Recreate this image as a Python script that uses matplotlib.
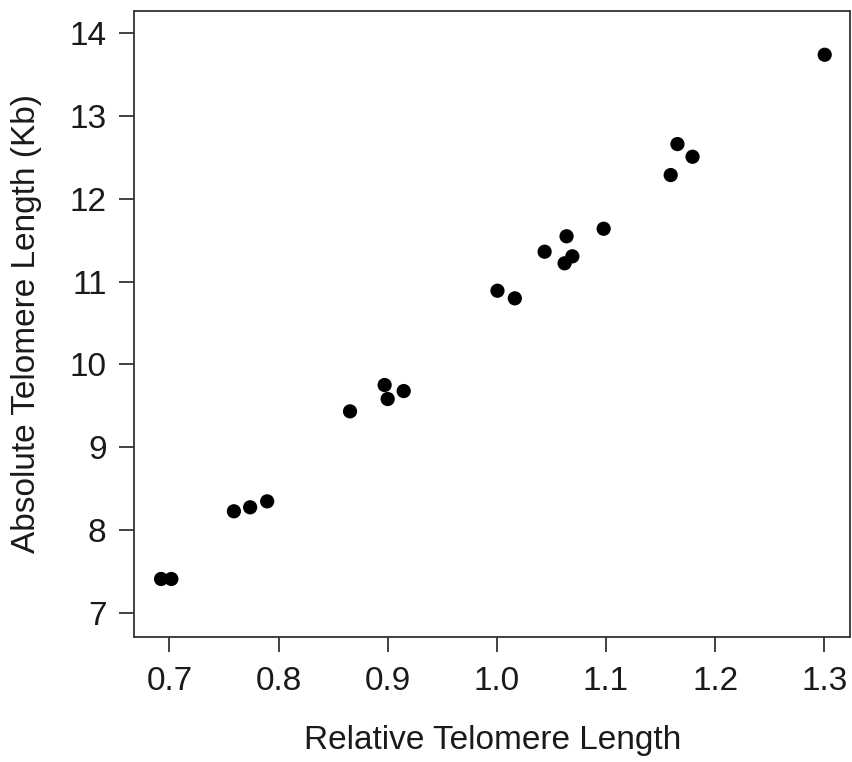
import matplotlib
matplotlib.use("Agg")
import matplotlib.pyplot as plt

relative_tl = [0.6924, 0.7018, 0.7591, 0.7740, 0.7896, 0.8655, 0.8972, 0.9000,
               0.9147, 1.0006, 1.0165, 1.0438, 1.0621, 1.0639, 1.0692, 1.0979,
               1.1593, 1.1655, 1.1793, 1.3004]
absolute_tl = [7.411, 7.411, 8.228, 8.276, 8.348, 9.434, 9.752, 9.583,
               9.679, 10.890, 10.798, 11.361, 11.221, 11.547, 11.305, 11.638,
               12.286, 12.660, 12.507, 13.738]
x_ticks = [0.7, 0.8, 0.9, 1.0, 1.1, 1.2, 1.3]
x_tick_labels = ["0.7", "0.8", "0.9", "1.0", "1.1", "1.2", "1.3"]
y_ticks = [7, 8, 9, 10, 11, 12, 13, 14]

plt.rcParams['font.family'] = ['Liberation Sans', 'DejaVu Sans']

fig = plt.figure(figsize=(8.53, 7.62), dpi=100)
ax = fig.add_axes([0.1575, 0.1644, 0.839, 0.8216])
ax.scatter(relative_tl, absolute_tl, s=105, color='black', edgecolors='none', zorder=3)

ax.set_xlim(0.6679, 1.3236)
ax.set_ylim(6.714, 14.27)
ax.set_xticks(x_ticks)
ax.set_xticklabels(x_tick_labels)
ax.set_yticks(y_ticks)

for sp in ax.spines.values():
    sp.set_color('#333333')
    sp.set_linewidth(1.3)

ax.tick_params(axis='both', direction='out', length=11, width=1.3, color='#333333',
               labelsize=24, labelcolor='#1a1a1a', pad=9)
ax.tick_params(axis='x', pad=10)
ax.set_xlabel("Relative Telomere Length", fontsize=24, color='#1a1a1a', labelpad=20)
ax.set_ylabel("Absolute Telomere Length (Kb)", fontsize=24, color='#1a1a1a', labelpad=20)

fig.savefig("out.png", dpi=100, facecolor='white')
